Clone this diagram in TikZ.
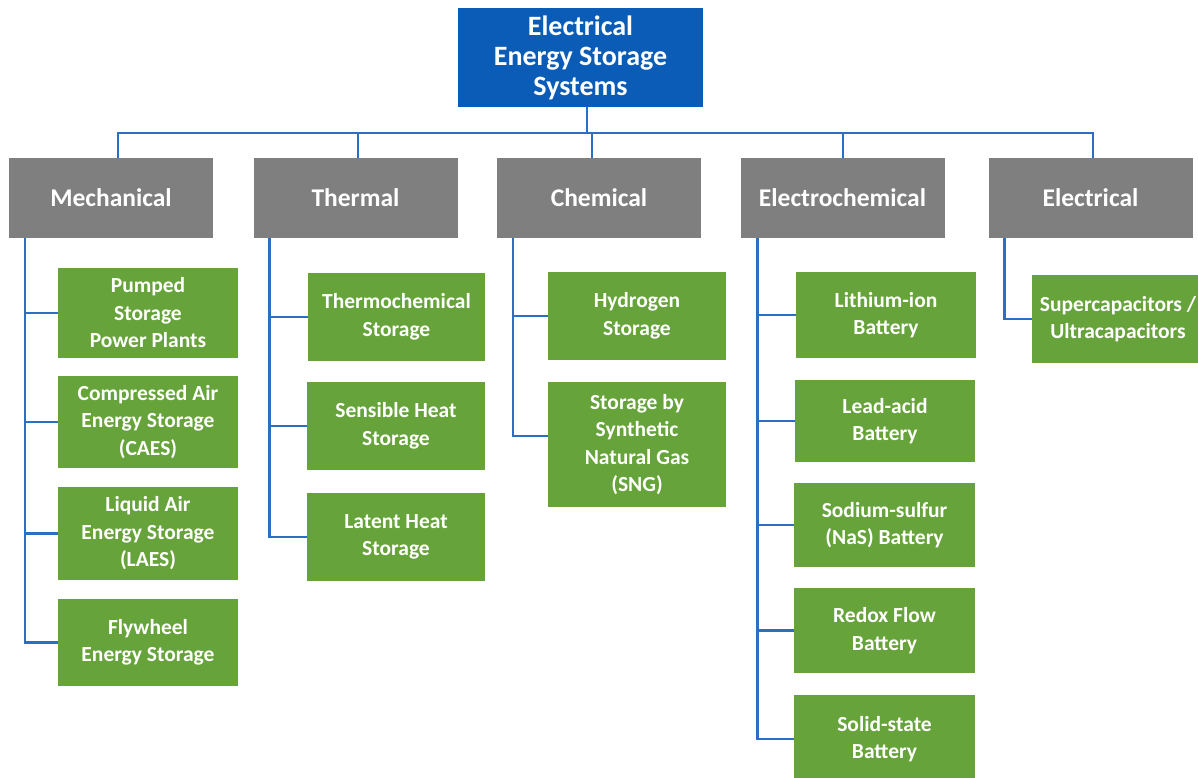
\documentclass[tikz,border=0pt]{standalone}
\usepackage{fontspec}
\setmainfont{Carlito}
\definecolor{rootblue}{HTML}{0B5CB6}
\definecolor{catgray}{HTML}{7F7F7F}
\definecolor{leafgreen}{HTML}{67A33B}
\definecolor{linkblue}{HTML}{2A6FC4}
\begin{document}
\begin{tikzpicture}[x=1pt,y=-1pt,
 box/.style={rectangle, inner sep=0pt, text=white, align=center},
 rootbox/.style={box, fill=rootblue, minimum width=245pt, minimum height=99pt, font=\fontsize{28}{30}\selectfont\bfseries},
 catbox/.style={box, fill=catgray, minimum width=204pt, minimum height=80pt, font=\fontsize{25.5}{30}\selectfont\bfseries},
 leafbox/.style={box, fill=leafgreen, font=\fontsize{21.5}{27.5}\selectfont\bfseries},
 conn/.style={draw=linkblue, line width=2.4pt}]
\useasboundingbox (0,0) rectangle (1198,778);
\fill[white] (0,0) rectangle (1198,778);
\clip (0,0) rectangle (1198,778);

% root
\node[rootbox] (root) at (580.5,57.5) {Electrical\\Energy Storage\\Systems};

% categories
\node[catbox] (mech)  at (111,198)    {Mechanical};
\node[catbox] (therm) at (355.5,198)  {Thermal};
\node[catbox] (chem)  at (599,198)    {Chemical};
\node[catbox] (echem) at (842.5,198)  {Electrochemical};
\node[catbox] (elec)  at (1090.5,198) {Electrical};

% mechanical
\node[leafbox, minimum width=180pt, minimum height=90pt] (pumped) at (148,313)   {Pumped\\Storage\\Power Plants};
\node[leafbox, minimum width=180pt, minimum height=92pt] (caes)   at (148,422)   {Compressed Air\\Energy Storage\\(CAES)};
\node[leafbox, minimum width=180pt, minimum height=93pt] (laes)   at (148,533.5) {Liquid Air\\Energy Storage\\(LAES)};
\node[leafbox, minimum width=180pt, minimum height=87pt] (fly)    at (148,642.5) {Flywheel\\Energy Storage};

% thermal
\node[leafbox, minimum width=177pt, minimum height=88pt] (thermo) at (396.5,317) {Thermochemical\\Storage};
\node[leafbox, minimum width=178pt, minimum height=88pt] (sens)   at (396,426)   {Sensible Heat\\Storage};
\node[leafbox, minimum width=178pt, minimum height=88pt] (lat)    at (396,537)   {Latent Heat\\Storage};

% chemical
\node[leafbox, minimum width=178pt, minimum height=88pt]  (hyd) at (637,316)   {Hydrogen\\Storage};
\node[leafbox, minimum width=178pt, minimum height=125pt] (sng) at (637,444.5) {Storage by\\Synthetic\\Natural Gas\\(SNG)};

% electrochemical
\node[leafbox, minimum width=180pt, minimum height=86pt] (li)    at (886,315)   {Lithium-ion\\Battery};
\node[leafbox, minimum width=180pt, minimum height=82pt] (lead)  at (885,421)   {Lead-acid\\Battery};
\node[leafbox, minimum width=181pt, minimum height=84pt] (nas)   at (884.5,525) {Sodium-sulfur\\(NaS) Battery};
\node[leafbox, minimum width=181pt, minimum height=85pt] (redox) at (884.5,630.5) {Redox Flow\\Battery};
\node[leafbox, minimum width=181pt, minimum height=88pt] (solid) at (884.5,739) {Solid-state\\Battery};

% electrical
\node[leafbox, minimum width=172pt, minimum height=88pt] (super) at (1118,319) {Supercapacitors /\\Ultracapacitors};

% bus connectors
\coordinate (bus) at (0,133);
\coordinate (rbot) at ([xshift=6.5pt]root.south);
\coordinate (mtop) at ([xshift=7pt]mech.north);
\coordinate (ttop) at ([xshift=2.5pt]therm.north);
\coordinate (ctop) at ([xshift=-7pt]chem.north);
\coordinate (etop) at ([xshift=0.5pt]echem.north);
\coordinate (ltop) at ([xshift=2.5pt]elec.north);
\draw[conn] (rbot) -- (rbot |- bus);
\draw[conn] (mtop) |- (ltop |- bus) -- (ltop);
\foreach \c in {ttop,ctop,etop} \draw[conn] (\c) -- (\c |- bus);

% side connectors
\coordinate (mx) at ([xshift=16pt]mech.south west);
\draw[conn] (mx) |- (fly.west);
\foreach \l in {pumped,caes,laes} \draw[conn] (\l.west) -- (\l.west -| mx);

\coordinate (tx) at ([xshift=16pt]therm.south west);
\draw[conn] (tx) |- (lat.west);
\foreach \l in {thermo,sens} \draw[conn] (\l.west) -- (\l.west -| tx);

\coordinate (cx) at ([xshift=16pt]chem.south west);
\draw[conn] (cx) |- ([yshift=8.5pt]sng.west);
\draw[conn] (hyd.west) -- (hyd.west -| cx);

\coordinate (ex) at ([xshift=17pt]echem.south west);
\draw[conn] (ex) |- (solid.west);
\foreach \l in {li,lead,nas,redox} \draw[conn] (\l.west) -- (\l.west -| ex);

\coordinate (lx) at ([xshift=16pt]elec.south west);
\draw[conn] (lx) |- (super.west);
\end{tikzpicture}
\end{document}
